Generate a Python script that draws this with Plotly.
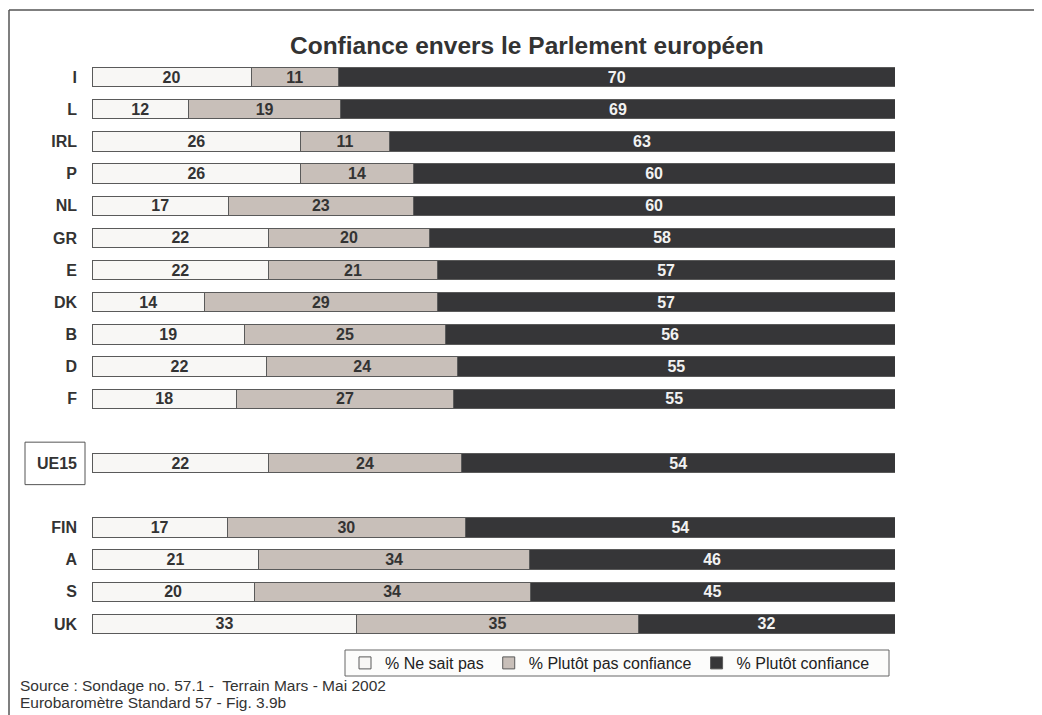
import plotly.graph_objects as go

countries = ["I", "L", "IRL", "P", "NL", "GR", "E", "DK", "B", "D", "F",
             "UE15", "FIN", "A", "S", "UK"]
# row slots (a blank slot before and after UE15)
positions = [0, 1, 2, 3, 4, 5, 6, 7, 8, 9, 10, 12, 14, 15, 16, 17]

ne_sait_pas = [20, 12, 26, 26, 17, 22, 22, 14, 19, 22, 18, 22, 17, 21, 20, 33]
plutot_pas = [11, 19, 11, 14, 23, 20, 21, 29, 25, 24, 27, 24, 30, 34, 34, 35]
plutot_conf = [70, 69, 63, 60, 60, 58, 57, 57, 56, 55, 55, 54, 54, 46, 45, 32]

series = [
    ("% Ne sait pas", ne_sait_pas, "#f8f7f5", "#333333"),
    ("% Plutôt pas confiance", plutot_pas, "#c8bfb9", "#333333"),
    ("% Plutôt confiance", plutot_conf, "#363638", "#f2f2f2"),
]

FONT = "Liberation Sans, Arial, sans-serif"
PAGE = 8  # default body margin of the html page


def px_x(sx):
    # screen x -> paper x (plot area spans screen 92..895)
    return (sx - 92) / 803


def px_y(sy):
    # screen y -> paper y (plot area spans screen 61..640)
    return (640 - sy) / 579


fig = go.Figure()
for name, vals, color, txtcolor in series:
    fig.add_trace(go.Bar(
        y=positions, x=vals, name=name, orientation="h",
        width=0.6,
        marker=dict(color=color, line=dict(color="#5a5a5a", width=1)),
        text=[str(v) for v in vals], textposition="inside",
        insidetextanchor="middle", textangle=0,
        insidetextfont=dict(color=txtcolor, size=16, family=FONT, weight="bold"),
    ))

fig.update_layout(
    barmode="stack", barnorm="percent",
    width=1042, height=715,
    margin=dict(l=92 - PAGE, r=1042 - 895 + PAGE, t=61 - PAGE, b=715 - 640 + PAGE,
                autoexpand=False),
    paper_bgcolor="white", plot_bgcolor="white",
    font=dict(family=FONT, color="#333333"),
    uniformtext=dict(minsize=16, mode="show"),
    showlegend=True,
    legend=dict(orientation="h", xref="container", yref="container",
                x=(345 - PAGE) / 1042, y=1 - (663 - PAGE) / 715,
                xanchor="left", yanchor="middle",
                borderwidth=0, bgcolor="rgba(0,0,0,0)",
                font=dict(size=16, color="#222222"), traceorder="normal",
                itemwidth=30),
    xaxis=dict(range=[0, 100], visible=False, fixedrange=True),
    yaxis=dict(range=[17.5, -0.5], tickmode="array", tickvals=positions,
               ticktext=countries, showgrid=False, zeroline=False,
               ticks="", ticklabelstandoff=14,
               tickfont=dict(size=16, color="#333333", weight="bold")),
)

# legend frame
fig.add_shape(type="rect", xref="paper", yref="paper", layer="below",
              x0=px_x(345), x1=px_x(889), y0=px_y(676), y1=px_y(650),
              fillcolor="#fcfcfb", line=dict(color="#666666", width=1))

fig.add_annotation(text="<b>Confiance envers le Parlement européen</b>",
                   xref="paper", yref="paper", x=px_x(527), y=px_y(46),
                   yanchor="middle", showarrow=False,
                   font=dict(size=24.5, color="#333333"))

source_lines = ["Source : Sondage no. 57.1 -  Terrain Mars - Mai 2002",
                "Eurobaromètre Standard 57 - Fig. 3.9b"]
for i, line in enumerate(source_lines):
    fig.add_annotation(text=line, xref="paper", yref="paper",
                       x=px_x(18), y=px_y(685 + 17 * i),
                       xanchor="left", yanchor="middle", showarrow=False,
                       font=dict(size=15.5, color="#333333"))

# box around the UE15 label
fig.add_shape(type="rect", xref="paper", yref="y", x0=px_x(25), x1=px_x(85),
              y0=11.35, y1=12.67, line=dict(color="#555555", width=1))

# outer frame (top and left edges)
fig.add_shape(type="line", xref="paper", yref="paper", x0=px_x(9), x1=1.3,
              y0=px_y(10), y1=px_y(10), line=dict(color="#555555", width=1.5))
fig.add_shape(type="line", xref="paper", yref="paper", x0=px_x(9), x1=px_x(9),
              y0=px_y(10), y1=-0.3, line=dict(color="#555555", width=1.5))

fig.write_html("out.html")
